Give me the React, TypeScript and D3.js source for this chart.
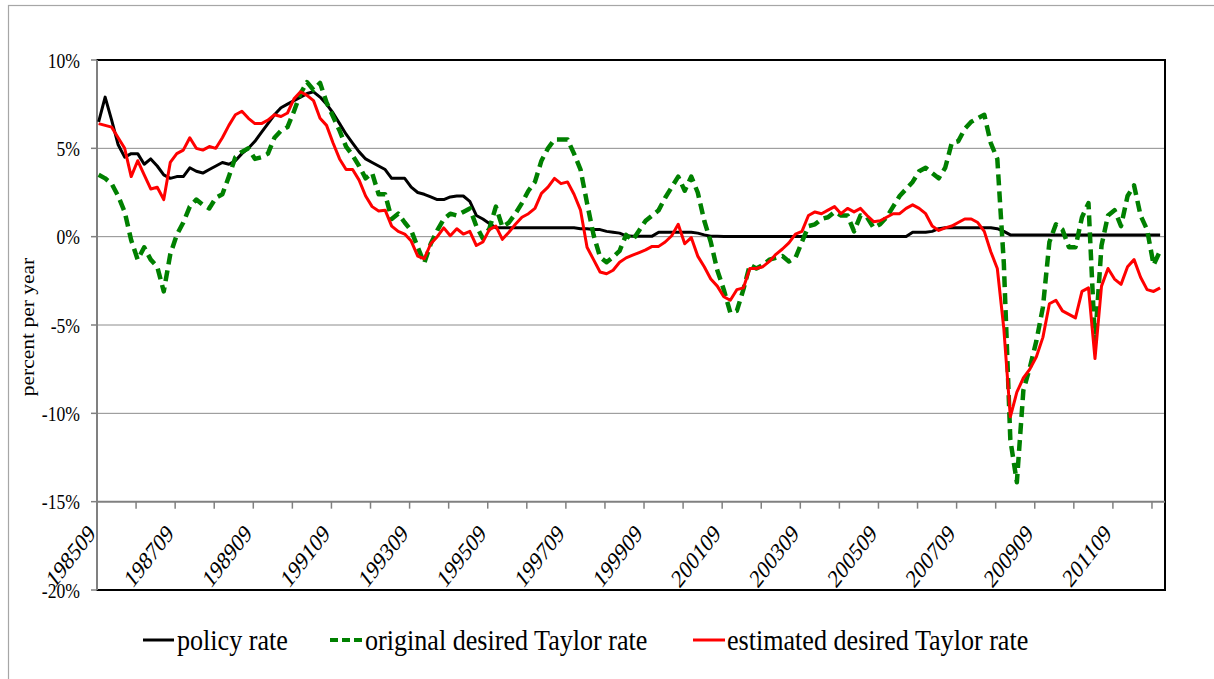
import * as d3 from "d3";

// every second month, 198509 .. 201211
const months = [
  198509, 198511,
  198601, 198603, 198605, 198607, 198609, 198611,
  198701, 198703, 198705, 198707, 198709, 198711,
  198801, 198803, 198805, 198807, 198809, 198811,
  198901, 198903, 198905, 198907, 198909, 198911,
  199001, 199003, 199005, 199007, 199009, 199011,
  199101, 199103, 199105, 199107, 199109, 199111,
  199201, 199203, 199205, 199207, 199209, 199211,
  199301, 199303, 199305, 199307, 199309, 199311,
  199401, 199403, 199405, 199407, 199409, 199411,
  199501, 199503, 199505, 199507, 199509, 199511,
  199601, 199603, 199605, 199607, 199609, 199611,
  199701, 199703, 199705, 199707, 199709, 199711,
  199801, 199803, 199805, 199807, 199809, 199811,
  199901, 199903, 199905, 199907, 199909, 199911,
  200001, 200003, 200005, 200007, 200009, 200011,
  200101, 200103, 200105, 200107, 200109, 200111,
  200201, 200203, 200205, 200207, 200209, 200211,
  200301, 200303, 200305, 200307, 200309, 200311,
  200401, 200403, 200405, 200407, 200409, 200411,
  200501, 200503, 200505, 200507, 200509, 200511,
  200601, 200603, 200605, 200607, 200609, 200611,
  200701, 200703, 200705, 200707, 200709, 200711,
  200801, 200803, 200805, 200807, 200809, 200811,
  200901, 200903, 200905, 200907, 200909, 200911,
  201001, 201003, 201005, 201007, 201009, 201011,
  201101, 201103, 201105, 201107, 201109, 201111,
  201201, 201203, 201205, 201207, 201209, 201211,
];

const policyRate = [
  6.5, 7.9, 6.6, 5.2, 4.5, 4.7, 4.7, 4.1, 4.4, 4.0, 3.5, 3.3,
  3.4, 3.4, 3.9, 3.7, 3.6, 3.8, 4.0, 4.2, 4.1, 4.3, 4.7, 5.0,
  5.4, 5.9, 6.4, 6.9, 7.3, 7.5, 7.7, 7.9, 8.1, 8.2, 7.9, 7.5,
  7.0, 6.4, 5.8, 5.3, 4.8, 4.4, 4.2, 4.0, 3.8, 3.3, 3.3, 3.3,
  2.8, 2.5, 2.4, 2.25, 2.1, 2.1, 2.25, 2.3, 2.3, 2.0, 1.2, 1.0,
  0.75, 0.5, 0.5, 0.5, 0.5, 0.5, 0.5, 0.5, 0.5, 0.5, 0.5, 0.5,
  0.5, 0.5, 0.45, 0.45, 0.4, 0.4, 0.3, 0.25, 0.2, 0.05, 0.03, 0.03,
  0.03, 0.03, 0.25, 0.25, 0.25, 0.25, 0.25, 0.25, 0.2, 0.1, 0.02, 0.02,
  0.01, 0.01, 0.01, 0.01, 0.01, 0.01, 0.01, 0.01, 0.01, 0.01, 0.01, 0.01,
  0.01, 0.01, 0.01, 0.01, 0.01, 0.01, 0.01, 0.01, 0.01, 0.01, 0.01, 0.01,
  0.01, 0.01, 0.01, 0.01, 0.01, 0.25, 0.25, 0.25, 0.3, 0.45, 0.5, 0.5,
  0.5, 0.5, 0.5, 0.5, 0.5, 0.5, 0.45, 0.3, 0.1, 0.1, 0.1, 0.1,
  0.1, 0.1, 0.1, 0.1, 0.1, 0.1, 0.1, 0.1, 0.1, 0.1, 0.1, 0.1,
  0.1, 0.1, 0.1, 0.1, 0.1, 0.1, 0.1, 0.1,
];

const originalTaylor = [
  3.5, 3.3, 3.0, 2.3, 1.4, -0.2, -1.3, -0.6, -1.3, -1.7, -3.1, -1.0,
  0.1, 0.8, 1.7, 2.1, 1.8, 1.6, 2.2, 2.4, 3.4, 4.5, 4.8, 5.0,
  4.4, 4.5, 4.7, 5.6, 6.0, 6.2, 7.1, 8.1, 8.75, 8.3, 8.7, 7.6,
  6.8, 6.0, 5.1, 4.6, 4.0, 3.3, 3.6, 2.4, 2.4, 1.0, 1.3, 0.8,
  0.35, -0.6, -1.5, -0.4, 0.35, 1.0, 1.3, 1.2, 1.4, 1.6, 0.6, -0.1,
  0.45, 1.7, 0.55, 0.8, 1.3, 1.9, 2.6, 3.1, 4.3, 5.0, 5.5, 5.5,
  5.5, 4.7, 3.8, 1.9, 0.1, -1.15, -1.45, -1.15, -0.8, 0.1, -0.2, 0.35,
  0.9, 1.2, 1.5, 2.2, 2.8, 3.4, 2.6, 3.4, 2.5, 0.9, -0.3, -1.9,
  -3.0, -4.3, -4.2, -3.0, -1.6, -1.8, -1.6, -1.3, -1.2, -1.1, -1.4, -1.2,
  -0.3, 0.6, 0.7, 1.0, 1.1, 1.4, 1.2, 1.2, 0.3, 1.2, 1.1, 0.5,
  0.7, 1.1, 1.7, 2.3, 2.7, 3.1, 3.7, 3.9, 3.6, 3.3, 3.9, 5.3,
  5.4, 6.1, 6.5, 6.7, 6.9, 5.3, 4.4, -1.5, -11.5, -13.9, -8.7, -7.4,
  -5.9, -4.0, -0.3, 0.7, 0.4, -0.6, -0.6, 1.1, 1.9, -6.0, -0.5, 1.2,
  1.5, 0.6, 2.3, 2.9, 1.2, 0.4, -1.6, -0.8,
];

const estimatedTaylor = [
  6.4, 6.3, 6.2, 5.6, 5.0, 3.4, 4.3, 3.5, 2.7, 2.8, 2.1, 4.2,
  4.7, 4.9, 5.6, 5.0, 4.9, 5.1, 5.0, 5.6, 6.3, 6.9, 7.1, 6.7,
  6.4, 6.4, 6.6, 6.9, 6.8, 7.0, 7.8, 8.2, 8.0, 7.7, 6.7, 6.3,
  5.3, 4.4, 3.8, 3.8, 3.2, 2.3, 1.7, 1.45, 1.5, 0.6, 0.3, 0.15,
  -0.25, -1.1, -1.25, -0.4, 0.0, 0.5, 0.05, 0.45, 0.15, 0.3, -0.5, -0.3,
  0.4, 0.6, -0.15, 0.25, 0.7, 1.1, 1.3, 1.6, 2.45, 2.8, 3.3, 3.0,
  3.1, 2.4, 1.5, -0.6, -1.3, -2.0, -2.1, -1.9, -1.45, -1.2, -1.05, -0.9,
  -0.75, -0.55, -0.55, -0.3, 0.05, 0.7, -0.4, -0.05, -1.1, -1.7, -2.4, -2.8,
  -3.4, -3.6, -3.0, -2.9, -1.8, -1.8, -1.7, -1.4, -1.0, -0.7, -0.35, 0.15,
  0.3, 1.2, 1.4, 1.3, 1.5, 1.7, 1.3, 1.6, 1.4, 1.6, 1.2, 0.85,
  0.9, 1.1, 1.3, 1.3, 1.6, 1.8, 1.6, 1.3, 0.6, 0.35, 0.5, 0.6,
  0.8, 1.0, 1.0, 0.8, 0.3, -0.85, -1.8, -5.2, -10.2, -8.8, -8.0, -7.5,
  -6.8, -5.7, -3.8, -3.6, -4.2, -4.4, -4.6, -3.1, -2.9, -6.9, -2.8, -1.8,
  -2.4, -2.7, -1.7, -1.3, -2.3, -3.0, -3.1, -2.9,
];

const tickLabels = [
  "198509", "198709", "198909", "199109", "199309", "199509", "199709",
  "199909", "200109", "200309", "200509", "200709", "200909", "201109",
];

const yTicks = [10, 5, 0, -5, -10, -15, -20];
const gridValues = [5, 0, -5, -10];

const FONT = "'Times New Roman', 'Liberation Serif', serif";
const N_MONTHS = 328; // 198509 .. 201212

function monthIndex(yyyymm: number) {
  const yr = Math.floor(yyyymm / 100);
  const mo = yyyymm % 100;
  return (yr - 1985) * 12 + (mo - 9);
}

export default function App() {
  const width = 1214;
  const height = 679;
  const plot = { left: 97, right: 1165, top: 60, bottom: 590 };

  const x = d3.scaleLinear().domain([0, N_MONTHS]).range([plot.left, plot.right]);
  const y = d3.scaleLinear().domain([-20, 10]).range([plot.bottom, plot.top]);

  const line = d3
    .line<number>()
    .x((_, i) => x(monthIndex(months[i]) + 0.5))
    .y((d) => y(d));

  const axisY = y(-15);
  const tickMonths = d3.range(12, N_MONTHS, 12);

  const legend = [
    { label: "policy rate", x0: 143, x1: 174, tx: 177, color: "#000000", dash: undefined, w: 3 },
    { label: "original desired Taylor rate", x0: 330, x1: 363, tx: 365, color: "#008000", dash: "8,4", w: 4 },
    { label: "estimated desired Taylor rate", x0: 693, x1: 725, tx: 727, color: "#ff0000", dash: undefined, w: 3 },
  ];

  return (
    <svg
      width={width}
      height={height}
      style={{ position: "absolute", left: 0, top: 0, background: "#fff" }}
      fontFamily={FONT}
    >
      {/* outer chart frame */}
      <rect x={8.5} y={5.5} width={1300} height={800} fill="none" stroke="#a6a6a6" strokeWidth={1.2} />

      {/* gridlines */}
      {gridValues.map((v) => (
        <line key={v} x1={plot.left} x2={plot.right} y1={y(v)} y2={y(v)} stroke="#8c8c8c" strokeWidth={1} />
      ))}

      {/* plot border */}
      <rect
        x={plot.left}
        y={plot.top}
        width={plot.right - plot.left}
        height={plot.bottom - plot.top}
        fill="none"
        stroke="#000"
        strokeWidth={2}
      />
      <line x1={plot.left} x2={plot.left} y1={plot.top} y2={plot.bottom} stroke="#808080" strokeWidth={2} />

      {/* y ticks + labels */}
      {yTicks.map((v) => (
        <g key={v}>
          <line x1={plot.left - 6} x2={plot.left} y1={y(v)} y2={y(v)} stroke="#808080" strokeWidth={1.5} />
          <text
            transform={`translate(80,${y(v) + 7.5}) scale(0.84,1)`}
            textAnchor="end"
            fontSize={21}
            fill="#000"
          >
            {`${v}%`}
          </text>
        </g>
      ))}

      {/* y title */}
      <text
        transform={`translate(34,327) scale(0.88,1) rotate(-90)`}
        textAnchor="middle"
        fontSize={21.5}
        fill="#000"
      >
        percent per year
      </text>

      {/* category axis at -15% */}
      <line x1={plot.left} x2={plot.right} y1={axisY} y2={axisY} stroke="#808080" strokeWidth={2} />
      {tickMonths.map((m) => (
        <line key={m} x1={x(m)} x2={x(m)} y1={axisY} y2={axisY + 7} stroke="#808080" strokeWidth={1.5} />
      ))}
      {tickLabels.map((lab) => {
        const cx = x(monthIndex(+lab) + 0.5);
        return (
          <text
            key={lab}
            transform={`translate(${cx - 2},535) scale(0.78,1) rotate(-45)`}
            textAnchor="end"
            fontSize={25.5}
            fill="#000"
          >
            {lab}
          </text>
        );
      })}

      {/* series */}
      <path d={line(policyRate) ?? ""} fill="none" stroke="#000000" strokeWidth={3} strokeLinejoin="round" />
      <path
        d={line(originalTaylor) ?? ""}
        fill="none"
        stroke="#008000"
        strokeWidth={4.5}
        strokeDasharray="11,6"
        strokeLinejoin="round"
      />
      <path d={line(estimatedTaylor) ?? ""} fill="none" stroke="#ff0000" strokeWidth={3} strokeLinejoin="round" />

      {/* legend */}
      {legend.map((it) => (
        <g key={it.label}>
          <line
            x1={it.x0}
            x2={it.x1}
            y1={640}
            y2={640}
            stroke={it.color}
            strokeWidth={it.w}
            strokeDasharray={it.dash}
          />
          <text transform={`translate(${it.tx},650) scale(0.9,1)`} fontSize={29} fill="#000">
            {it.label}
          </text>
        </g>
      ))}
    </svg>
  );
}
